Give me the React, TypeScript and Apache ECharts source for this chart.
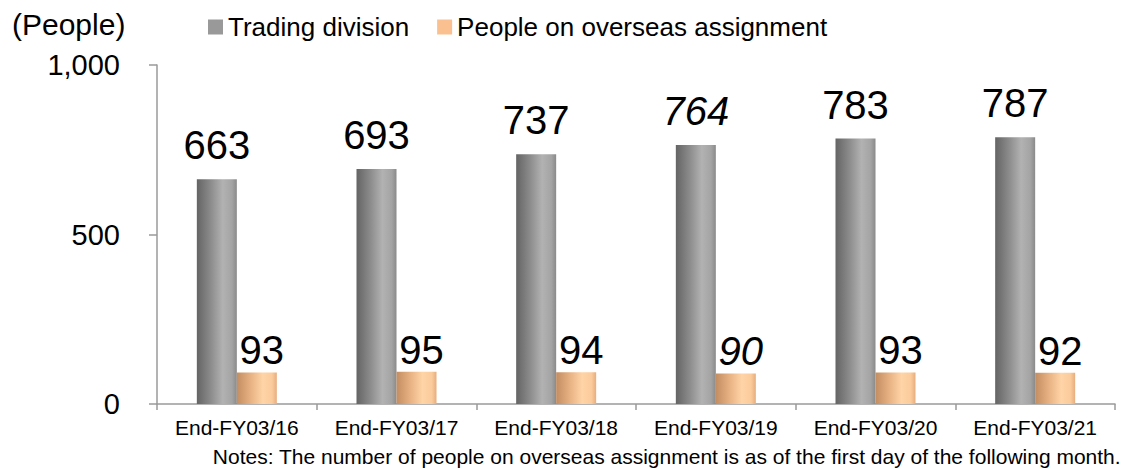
import React, { useEffect, useRef } from "react";
import * as echarts from "echarts";

const categories = ["End-FY03/16", "End-FY03/17", "End-FY03/18", "End-FY03/19", "End-FY03/20", "End-FY03/21"];
const tradingDivision = [663, 693, 737, 764, 783, 787];
const overseasAssignment = [93, 95, 94, 90, 93, 92];
const italicCategories = ["End-FY03/19"];
const yTicks = [0, 500, 1000];
const seriesNames = ["Trading division", "People on overseas assignment"];
const unitLabel = "(People)";
const noteText = "Notes: The number of people on overseas assignment is as of the first day of the following month.";

const FONT = "Liberation Sans, Arial, Helvetica, sans-serif";

const grayGrad = new echarts.graphic.LinearGradient(0, 0, 1, 0, [
  { offset: 0, color: "#646464" },
  { offset: 0.35, color: "#8c8c8c" },
  { offset: 0.65, color: "#b2b2b2" },
  { offset: 0.88, color: "#a4a4a4" },
  { offset: 1, color: "#8a8a8a" },
]);
const orangeGrad = new echarts.graphic.LinearGradient(0, 0, 1, 0, [
  { offset: 0, color: "#c38d62" },
  { offset: 0.35, color: "#e8b284" },
  { offset: 0.65, color: "#ffd4a6" },
  { offset: 0.88, color: "#fbcb9c" },
  { offset: 1, color: "#e6ad7e" },
]);

export default function App() {
  const ref = useRef<HTMLDivElement>(null);
  useEffect(() => {
    document.body.style.margin = "0";
    const chart = echarts.init(ref.current!, null, { renderer: "svg" });
    const mk = (vals: number[]) =>
      vals.map((v, i) =>
        italicCategories.includes(categories[i])
          ? { value: v, label: { fontStyle: "italic" } }
          : { value: v }
      );
    chart.setOption({
      animation: false,
      textStyle: { fontFamily: FONT },
      legend: {
        top: 9,
        left: 203,
        itemWidth: 15,
        itemHeight: 15,
        itemGap: 28,
        icon: "rect",
        textStyle: { fontSize: 26, color: "#000", fontFamily: FONT, padding: [0, 0, 0, 0] },
        data: [
          { name: seriesNames[0], itemStyle: { color: "#999999" } },
          { name: seriesNames[1], itemStyle: { color: "#fac090" } },
        ],
      },
      graphic: [
        {
          type: "text",
          left: 12,
          top: 9,
          style: { text: unitLabel, fontSize: 30, fill: "#000", fontFamily: FONT },
        },
        {
          type: "text",
          right: 11,
          top: 446,
          style: { text: noteText, fontSize: 21, fill: "#000", fontFamily: FONT },
        },
      ],
      grid: { left: 157, right: 17, top: 65, bottom: 65, containLabel: false },
      xAxis: {
        type: "category",
        data: categories,
        axisLine: { lineStyle: { color: "#9a9a9a", width: 1.5 } },
        axisTick: { show: true, length: 6, lineStyle: { color: "#9a9a9a", width: 1.5 } },
        axisLabel: { interval: 0, hideOverlap: false, fontSize: 21, color: "#000", margin: 13, fontFamily: FONT },
      },
      yAxis: {
        type: "value",
        min: yTicks[0],
        max: yTicks[yTicks.length - 1],
        interval: yTicks[1] - yTicks[0],
        axisLine: { show: true, lineStyle: { color: "#9a9a9a", width: 1.5 } },
        axisTick: { show: true, length: 8, lineStyle: { color: "#9a9a9a", width: 1.5 } },
        splitLine: { show: false },
        axisLabel: {
          fontSize: 29,
          color: "#000",
          margin: 37,
          fontFamily: FONT,
          formatter: (v: number) => v.toLocaleString("en-US"),
        },
      },
      series: [
        {
          name: seriesNames[0],
          type: "bar",
          barWidth: 40,
          barGap: "0%",
          data: mk(tradingDivision),
          itemStyle: { color: grayGrad },
          label: {
            show: true,
            position: "top",
            distance: 14,
            fontSize: 40,
            color: "#000",
            fontFamily: FONT,
          },
        },
        {
          name: seriesNames[1],
          type: "bar",
          barWidth: 40,
          barGap: "0%",
          data: mk(overseasAssignment),
          itemStyle: { color: orangeGrad },
          label: {
            show: true,
            position: "top",
            distance: 2,
            offset: [5, 0],
            fontSize: 40,
            color: "#000",
            fontFamily: FONT,
          },
        },
      ],
    });
    return () => chart.dispose();
  }, []);
  return <div ref={ref} style={{ width: 1132, height: 469, position: "absolute", left: 0, top: 0 }} />;
}
